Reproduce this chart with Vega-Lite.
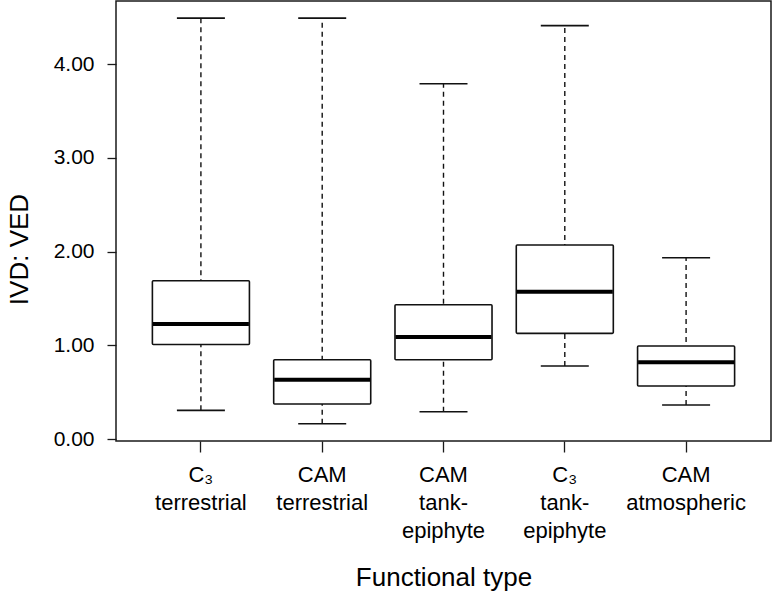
{
  "$schema": "https://vega.github.io/schema/vega-lite/v6.json",
  "width": 655,
  "height": 440,
  "autosize": {"type": "none"},
  "padding": {"left": 116, "top": 1, "right": 3, "bottom": 152},
  "background": "white",
  "config": {
    "font": "Liberation Sans",
    "view": {"stroke": "#1a1a1a", "strokeWidth": 1.5},
    "axis": {"grid": false, "domain": false, "tickColor": "#1a1a1a", "tickWidth": 1.3, "labelColor": "#000", "titleColor": "#000", "titleFontWeight": "normal", "labelFont": "Liberation Sans", "titleFont": "Liberation Sans"}
  },
  "data": {
    "values": [
      {"type": "C₃ terrestrial", "lo": 0.307, "q1": 1.01, "med": 1.228, "q3": 1.69, "hi": 4.49},
      {"type": "CAM terrestrial", "lo": 0.164, "q1": 0.374, "med": 0.634, "q3": 0.847, "hi": 4.49},
      {"type": "CAM tank-epiphyte", "lo": 0.292, "q1": 0.847, "med": 1.089, "q3": 1.434, "hi": 3.79},
      {"type": "C₃ tank-epiphyte", "lo": 0.78, "q1": 1.128, "med": 1.572, "q3": 2.07, "hi": 4.41},
      {"type": "CAM atmospheric", "lo": 0.364, "q1": 0.566, "med": 0.819, "q3": 0.993, "hi": 1.935}
    ]
  },
  "encoding": {
    "x": {
      "field": "type",
      "type": "nominal",
      "sort": null,
      "scale": {"type": "band", "paddingInner": 0, "paddingOuter": 0.2},
      "axis": {
        "title": "Functional type",
        "titleFontSize": 26,
        "titleBaseline": "alphabetic",
        "titleY": 144,
        "labelAngle": 0,
        "labelFontSize": 22,
        "labelLineHeight": 28,
        "labelPadding": 12,
        "tickSize": 11,
        "labelExpr": "split(replace(replace(datum.label, ' ', '|'), '-', '-|'), '|')"
      }
    }
  },
  "layer": [
    {
      "mark": {"type": "rule", "strokeDash": [5, 4], "strokeWidth": 1.4, "color": "#111"},
      "encoding": {
        "y": {
          "field": "lo",
          "type": "quantitative",
          "scale": {"domain": [-0.02, 4.673], "nice": false, "zero": false},
          "axis": {
            "title": "IVD: VED",
            "titleFontSize": 26,
            "titleBaseline": "alphabetic",
            "titleAlign": "center",
            "titleAngle": 270,
            "titleX": -89,
            "titleY": 248,
            "values": [0, 1, 2, 3, 4],
            "format": ".2f",
            "labelFontSize": 21,
            "labelPadding": 13,
            "tickSize": 9
          }
        },
        "y2": {"field": "hi"}
      }
    },
    {
      "mark": {"type": "bar", "width": {"band": 0.8}, "fill": "white", "stroke": "#111", "strokeWidth": 1.6, "cornerRadius": 1},
      "encoding": {
        "y": {"field": "q1", "type": "quantitative"},
        "y2": {"field": "q3"}
      }
    },
    {
      "mark": {"type": "tick", "size": 96, "thickness": 4, "color": "#000", "opacity": 1},
      "encoding": {"y": {"field": "med", "type": "quantitative"}}
    },
    {
      "mark": {"type": "tick", "size": 48, "thickness": 1.6, "color": "#111", "opacity": 1},
      "encoding": {"y": {"field": "lo", "type": "quantitative"}}
    },
    {
      "mark": {"type": "tick", "size": 48, "thickness": 1.6, "color": "#111", "opacity": 1},
      "encoding": {"y": {"field": "hi", "type": "quantitative"}}
    }
  ]
}
